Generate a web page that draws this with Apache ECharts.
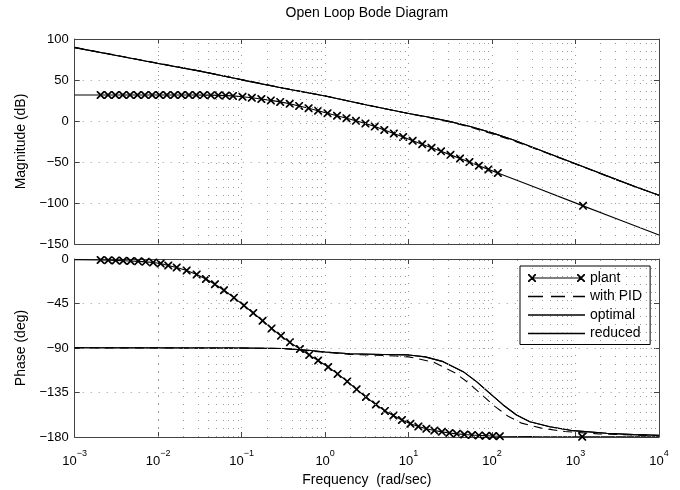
<!DOCTYPE html>
<html>
<head>
<meta charset="utf-8">
<title>Open Loop Bode Diagram</title>
<script src="https://cdn.jsdelivr.net/npm/echarts@6/dist/echarts.min.js"></script>
<style>
  html, body { margin: 0; padding: 0; background: #fff; }
  #chart { width: 680px; height: 490px; }
</style>
</head>
<body>
<div id="chart"></div>
<script>
// all frequencies below are given as log10(w), w in rad/sec

// plant magnitude (dB): points that carry an "x" marker
var plantMagMarkW = [-2.689, -2.601, -2.513, -2.424, -2.337, -2.248, -2.160, -2.072, -1.984, -1.896,
  -1.808, -1.720, -1.632, -1.544, -1.456, -1.368, -1.280, -1.192, -1.104,
  -0.990, -0.878, -0.764, -0.650, -0.538, -0.424, -0.311, -0.198, -0.084, 0.029,
  0.143, 0.256, 0.369, 0.483, 0.595, 0.709, 0.823, 0.935, 1.049, 1.163,
  1.275, 1.389, 1.502, 1.616, 1.729, 1.842, 1.956, 2.069, 3.090];
var plantMagMarkDb = [31.7, 31.7, 31.7, 31.7, 31.7, 31.7, 31.7, 31.7, 31.7, 31.7,
  31.7, 31.7, 31.7, 31.7, 31.6, 31.5, 31.3, 31.0, 30.6,
  29.6, 28.4, 26.9, 25.1, 23.3, 21.0, 18.4, 15.6, 12.6, 9.5,
  6.4, 3.4, 0.2, -3.0, -6.8, -10.9, -15.3, -19.6, -24.0, -28.3,
  -32.6, -37.0, -41.3, -45.7, -50.1, -54.5, -59.0, -63.4, -103.5];
// plant magnitude: line only points
var plantMagLineW = [-3, 2.5, 3.5, 4];
var plantMagLineDb = [31.7, -80.2, -119.5, -139];

// plant phase (deg): marked points
var plantPhMarkW = [-2.689, -2.599, -2.509, -2.420, -2.330, -2.240, -2.150, -2.060, -1.970,
  -1.879, -1.778, -1.659, -1.539, -1.428, -1.320, -1.212, -1.092, -0.972, -0.861,
  -0.749, -0.641, -0.529, -0.422, -0.302, -0.190, -0.083, 0.037, 0.150, 0.265,
  0.377, 0.489, 0.608, 0.716,
  0.818, 0.920, 1.022, 1.117, 1.213, 1.309, 1.399, 1.489, 1.578, 1.668,
  1.758, 1.842, 1.926, 2.010, 2.093, 3.080];
var plantPhMarkDeg = [-1.0, -1.2, -1.4, -1.7, -2.0, -2.4, -2.9, -3.6, -4.6,
  -6.6, -8.6, -11.6, -15.6, -20.2, -25.6, -31.6, -39.1, -47.0, -54.6,
  -62.4, -70.2, -77.7, -84.3, -91.0, -97.0, -102.6, -109.2, -116.2, -123.8,
  -131.8, -139.6, -147.2, -153.6,
  -158.3, -162.8, -166.6, -169.4, -171.7, -173.4, -174.8, -175.9, -176.8, -177.5,
  -178.0, -178.4, -178.7, -179.0, -179.2, -179.7];
var plantPhLineW = [-3, 2.5, 3.5, 4];
var plantPhLineDeg = [-0.6, -179.5, -179.8, -179.9];

// controlled loops, magnitude
var loopMagW = [-3, -2.5, -2, -1.5, -1, -0.5, 0, 0.5, 1, 1.25, 1.5, 1.75, 2, 2.25, 2.5, 2.75, 3, 3.25, 3.5, 3.75, 4];
var pidMag = [89.8, 80.1, 70.5, 60.9, 50.5, 40.3, 30.6, 19.6, 9.0, 4.1, -1.3, -7.8, -15.5, -23.8, -33.2, -42.9, -52.4, -62.3, -72.0, -81.5, -90.6];
var optimalMag = [89.5, 79.8, 70.2, 60.8, 50.2, 40.0, 30.4, 19.5, 9.2, 4.5, -0.8, -7.0, -14.5, -22.8, -32.5, -42.3, -52.0, -62.0, -71.8, -81.3, -90.5];
var reducedMag = [89.5, 79.8, 70.2, 60.8, 50.2, 40.0, 30.4, 19.5, 9.2, 4.5, -0.8, -7.0, -14.5, -22.8, -32.5, -42.3, -52.0, -62.0, -71.8, -81.3, -90.5];

// controlled loops, phase
var pidPhW = [-3, -1, -0.5, -0.2, 0, 0.3, 0.7, 1.0, 1.1, 1.314, 1.554, 1.714, 1.874, 2.033, 2.193, 2.353, 2.592, 2.871, 3.271, 3.7, 4.0];
var pidPh = [-89.8, -90, -90.6, -92.8, -94.5, -96.5, -97.5, -99, -100.5, -104.8, -115, -125, -137, -149, -159, -166, -171, -174.5, -176.8, -178, -178.6];
var optPhW = [-3, -1, -0.5, -0.2, 0, 0.3, 0.7, 1.0, 1.2, 1.414, 1.654, 1.814, 1.974, 2.133, 2.293, 2.453, 2.692, 2.971, 3.371, 3.7, 4.0];
var optimalPh = [-89.8, -90, -90.5, -92.3, -94, -95.8, -96.5, -97, -99, -103.8, -113.9, -124, -135.8, -147.6, -157.7, -164.5, -169.6, -173.6, -176.2, -177.6, -178.3];
var reducedPh = [-89.8, -90, -90.5, -92.3, -94, -95.8, -96.5, -97, -99, -103.8, -113.9, -124, -135.8, -147.6, -157.7, -164.5, -169.6, -173.6, -176.2, -177.6, -178.3];

// axes
var freqMin = 1e-3, freqMax = 1e4;
var minorMult = [2, 3, 4, 5, 6, 7, 8, 9];
var decades = [-3, -2, -1, 0, 1, 2, 3];

var FONT = '"Liberation Sans", Arial, Helvetica, sans-serif';
var GRID_DOTS = {color: '#999', type: [1, 7], width: 1};
var X_PATH = 'path://M0,0L1.5,0L10,8.5L10,10L8.5,10L0,1.5Z M10,0L10,1.5L1.5,10L0,10L0,8.5L8.5,0Z';
var ICON_PLANT = 'path://M0,0L1.3,0L8,6.7L8,8L6.7,8L0,1.3Z M8,0L8,1.3L1.3,8L0,8L0,6.7L6.7,0Z M4,3.5L53,3.5L53,4.6L4,4.6Z M49,0L50.3,0L57,6.7L57,8L55.7,8L49,1.3Z M57,0L57,1.3L50.3,8L49,8L49,6.7L55.7,0Z';
var ICON_DASH = 'path://M0,0L15,0L15,1.3L0,1.3Z M23,0L37,0L37,1.3L23,1.3Z M45,0L57,0L57,1.3L45,1.3Z';
var ICON_SOLID = 'path://M0,0L57,0L57,1.3L0,1.3Z';

function toPoints(ws, vs){
  return ws.map(function(w, i){ return [Math.pow(10, w), vs[i]]; });
}

function plantData(lineW, lineV, markW, markV){
  var pts = [];
  lineW.forEach(function(w, i){ pts.push({w: w, v: lineV[i], mark: false}); });
  markW.forEach(function(w, i){ pts.push({w: w, v: markV[i], mark: true}); });
  pts.sort(function(a, b){ return a.w - b.w; });
  return pts.map(function(p){
    return {value: [Math.pow(10, p.w), p.v], symbol: p.mark ? X_PATH : 'none'};
  });
}

function minorLines(){
  var list = [];
  decades.forEach(function(d){
    minorMult.forEach(function(m){ list.push({xAxis: m * Math.pow(10, d)}); });
  });
  return list;
}

function minusFmt(v){
  return v < 0 ? '\u2212' + (-v) : String(v);
}

function xAxisPair(grid, showLabels, topName){
  var bottom = {
    type: 'log', logBase: 10, gridIndex: grid, position: 'bottom',
    min: freqMin, max: freqMax, splitNumber: 7,
    axisLine: {onZero: false, lineStyle: {color: '#444', width: 1}},
    axisTick: {show: true, inside: true, length: 5, lineStyle: {color: '#444'}},
    splitLine: {show: true, lineStyle: GRID_DOTS},
    axisLabel: {show: false}
  };
  if (showLabels) {
    bottom.axisLabel = {
      show: true, margin: 12, color: '#000', fontFamily: FONT,
      formatter: function(v){
        var e = Math.round(Math.log10(v));
        return '{b|10}{s|' + (e < 0 ? '\u2212' + (-e) : e) + '}';
      },
      rich: {
        b: {fontSize: 13, fontFamily: FONT, color: '#000'},
        s: {fontSize: 9, fontFamily: FONT, color: '#000', padding: [0, 0, 16, 0]}
      }
    };
    bottom.name = 'Frequency  (rad/sec)';
    bottom.nameLocation = 'middle';
    bottom.nameGap = 36;
    bottom.nameTextStyle = {fontSize: 14, fontFamily: FONT, color: '#000'};
  }
  var top = {
    type: 'log', logBase: 10, gridIndex: grid, position: 'top',
    min: freqMin, max: freqMax, splitNumber: 7,
    axisLine: {onZero: false, lineStyle: {color: '#444', width: 1}},
    axisTick: {show: true, inside: true, length: 5, lineStyle: {color: '#444'}},
    splitLine: {show: false},
    axisLabel: {show: false}
  };
  if (topName) {
    top.name = topName;
    top.nameLocation = 'middle';
    top.nameGap = 19;
    top.nameTextStyle = {fontSize: 14, fontFamily: FONT, color: '#000'};
  }
  return [bottom, top];
}

function yAxisPair(grid, min, max, interval, name){
  return [{
    type: 'value', gridIndex: grid, position: 'left',
    min: min, max: max, interval: interval,
    name: name, nameLocation: 'middle', nameGap: 46,
    nameTextStyle: {fontSize: 14, fontFamily: FONT, color: '#000'},
    axisLine: {show: true, onZero: false, lineStyle: {color: '#444', width: 1}},
    axisTick: {show: true, inside: true, length: 5, lineStyle: {color: '#444'}},
    splitLine: {show: true, lineStyle: GRID_DOTS},
    axisLabel: {margin: 6, fontSize: 13, fontFamily: FONT, color: '#000', formatter: minusFmt}
  }, {
    type: 'value', gridIndex: grid, position: 'right',
    min: min, max: max, interval: interval,
    axisLine: {show: true, onZero: false, lineStyle: {color: '#444', width: 1}},
    axisTick: {show: true, inside: true, length: 5, lineStyle: {color: '#444'}},
    splitLine: {show: false},
    axisLabel: {show: false}
  }];
}

function curve(name, grid, data, dashed){
  return {
    name: name, type: 'line', xAxisIndex: grid * 2, yAxisIndex: grid * 2,
    data: data, showSymbol: false,
    lineStyle: {color: '#000', width: 1.1, type: dashed ? [9, 6] : 'solid'},
    itemStyle: {color: '#000'}, z: 3, silent: true
  };
}

function plantSeries(grid, data){
  return {
    name: 'plant', type: 'line', xAxisIndex: grid * 2, yAxisIndex: grid * 2,
    data: data, showSymbol: true, showAllSymbol: true, symbolSize: 8,
    lineStyle: {color: '#000', width: 1.1},
    itemStyle: {color: '#000', borderWidth: 0}, z: 4, silent: true
  };
}

function gridLineSeries(grid){
  return {
    type: 'line', xAxisIndex: grid * 2, yAxisIndex: grid * 2, data: [], z: 1, silent: true,
    markLine: {
      silent: true, symbol: ['none', 'none'], label: {show: false}, animation: false,
      lineStyle: GRID_DOTS,
      data: minorLines()
    }
  };
}

var xs = xAxisPair(0, false, 'Open Loop Bode Diagram').concat(xAxisPair(1, true, null));
var ys = yAxisPair(0, -150, 100, 50, 'Magnitude (dB)').concat(yAxisPair(1, -180, 0, 45, 'Phase (deg)'));

var option = {
  animation: false,
  backgroundColor: '#fff',
  textStyle: {fontFamily: FONT},
  grid: [
    {left: 74.7, top: 39, width: 584.3, height: 205, containLabel: false, outerBoundsMode: 'none'},
    {left: 74.7, top: 259, width: 584.3, height: 178, containLabel: false, outerBoundsMode: 'none'}
  ],
  xAxis: xs,
  yAxis: ys,
  legend: {
    orient: 'vertical', left: 520, top: 266, align: 'left',
    backgroundColor: '#fff', borderColor: '#000', borderWidth: 1,
    padding: [5, 8, 4, 8], itemGap: 4.5, itemWidth: 57, itemHeight: 10,
    symbolKeepAspect: true,
    itemStyle: {borderWidth: 0},
    textStyle: {fontSize: 14, fontFamily: FONT, color: '#000'},
    data: [
      {name: 'plant', icon: ICON_PLANT},
      {name: 'with PID', icon: ICON_DASH},
      {name: 'optimal', icon: ICON_SOLID},
      {name: 'reduced', icon: ICON_SOLID}
    ]
  },
  series: [
    gridLineSeries(0),
    gridLineSeries(1),
    plantSeries(0, plantData(plantMagLineW, plantMagLineDb, plantMagMarkW, plantMagMarkDb)),
    curve('with PID', 0, toPoints(loopMagW, pidMag), true),
    curve('optimal', 0, toPoints(loopMagW, optimalMag), false),
    curve('reduced', 0, toPoints(loopMagW, reducedMag), false),
    plantSeries(1, plantData(plantPhLineW, plantPhLineDeg, plantPhMarkW, plantPhMarkDeg)),
    curve('with PID', 1, toPoints(pidPhW, pidPh), true),
    curve('optimal', 1, toPoints(optPhW, optimalPh), false),
    curve('reduced', 1, toPoints(optPhW, reducedPh), false)
  ]
};

var chart = echarts.init(document.getElementById('chart'));
chart.setOption(option);
</script>
</body>
</html>
